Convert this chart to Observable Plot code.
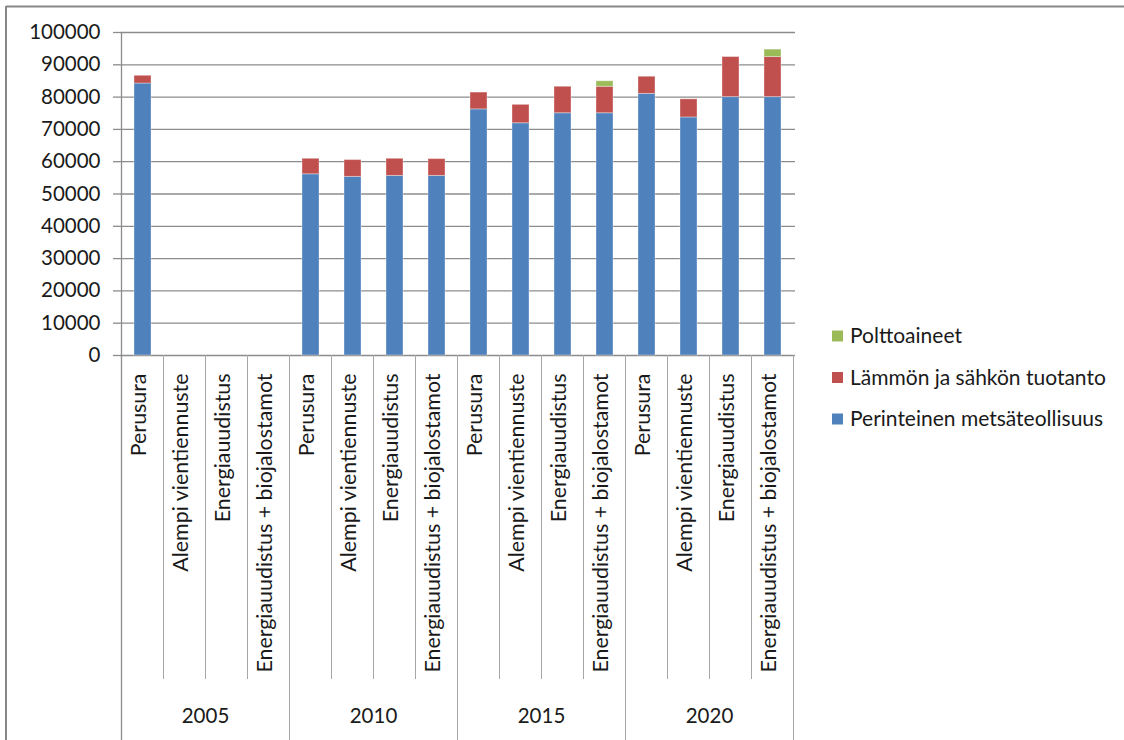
<!DOCTYPE html>
<html><head><meta charset="utf-8">
<script src="https://cdn.jsdelivr.net/npm/d3@7"></script>
<script src="https://cdn.jsdelivr.net/npm/@observablehq/plot@0.6"></script>
<style>body{margin:0;background:#fff;} svg{display:block}</style>
</head><body><div id="chart"></div>
<script>
const years = ["2005", "2010", "2015", "2020"];
const scenarios = ["Perusura", "Alempi vientiennuste", "Energiauudistus", "Energiauudistus + biojalostamot"];
const series = ["Perinteinen metsäteollisuus", "Lämmön ja sähkön tuotanto", "Polttoaineet"];
// values per year × scenario (16 entries), null = no data
const perinteinen = [84200, null, null, null, 56100, 55300, 55600, 55600, 76200, 71900, 75000, 75000, 81000, 73700, 80000, 80000];
const lammon      = [2400, null, null, null, 4800, 5200, 5300, 5200, 5200, 5700, 8200, 8200, 5300, 5600, 12400, 12400];
const polttoaineet = [0, null, null, null, 0, 0, 0, 0, 0, 0, 0, 1700, 0, 0, 0, 2300];
const yTicks = [0, 10000, 20000, 30000, 40000, 50000, 60000, 70000, 80000, 90000, 100000];
const colors = ["#4F81BD", "#C0504D", "#9BBB59"];
const legendOrder = ["Polttoaineet", "Lämmön ja sähkön tuotanto", "Perinteinen metsäteollisuus"];

const keys = [];
const cats = [];
const rows = [];
years.forEach((yr, gi) => scenarios.forEach((sc, si) => {
  const i = gi * 4 + si;
  const key = yr + "|" + sc;
  keys.push(key);
  cats.push({key, year: yr, scenario: sc});
  [perinteinen, lammon, polttoaineet].forEach((arr, k) => {
    if (arr[i] != null && arr[i] > 0) rows.push({key, series: series[k], value: arr[i]});
  });
}));

const font = "Lato, 'Open Sans', sans-serif";
const textColor = "#1a1a1a";
const gridColor = "#8c8c8c";
const sepColor = "#a6a6a6";

const plot = Plot.plot({
  width: 1124, height: 740,
  marginLeft: 120, marginRight: 329, marginTop: 32, marginBottom: 385,
  style: {fontFamily: font, fontSize: "20px", color: textColor, background: "#fff", overflow: "visible"},
  x: {domain: keys, paddingInner: 0.6, paddingOuter: 0.3, axis: null},
  y: {domain: [0, 100000], axis: null},
  color: {domain: series, range: colors},
  marks: [
    Plot.gridY(yTicks, {stroke: gridColor, strokeOpacity: 1, strokeWidth: 1.3}),
    Plot.barY(rows, {x: "key", y: "value", fill: "series", z: "series", order: series, stroke: "#ffffff", strokeOpacity: 0.35, strokeWidth: 1}),
    Plot.axisY(yTicks, {label: null, tickSize: 7, tickPadding: 13, stroke: gridColor, strokeWidth: 1.3, fill: textColor, fontSize: 20.5, tickFormat: d3.format("d")}),
    Plot.text(cats, {x: "key", text: "scenario", frameAnchor: "bottom", rotate: -90, textAnchor: "end", dy: 18, dx: 3, fontSize: 21.4, fill: textColor})
  ]
});

document.getElementById("chart").appendChild(plot);

const xs = plot.scale("x");
const ys = plot.scale("y");
const step = xs.step, bw = xs.bandwidth;
const leftOf = k => xs.apply(k) - (step - bw) / 2;
const svg = d3.select(plot);
const y0 = ys.apply(0);
const yTop = ys.apply(100000);
const H = 740;
const g = svg.append("g");

keys.forEach((k, i) => {
  const x = leftOf(k);
  const isGroup = i % 4 === 0;
  g.append("line").attr("x1", x).attr("x2", x)
    .attr("y1", i === 0 ? yTop : y0).attr("y2", isGroup ? H : 679)
    .attr("stroke", i === 0 ? gridColor : sepColor).attr("stroke-width", i === 0 ? 1.3 : 1);
});
{
  const xr = leftOf(keys[keys.length - 1]) + step;
  g.append("line").attr("x1", xr).attr("x2", xr).attr("y1", y0).attr("y2", H)
    .attr("stroke", sepColor).attr("stroke-width", 1);
}
// year labels centred under each group
years.forEach((yr, gi) => {
  const x0 = leftOf(keys[gi * 4]);
  const x1 = leftOf(keys[gi * 4 + 3]) + step;
  g.append("text").attr("x", (x0 + x1) / 2).attr("y", 716).attr("dy", "0.35em")
    .attr("text-anchor", "middle").attr("fill", textColor)
    .attr("font-family", font).attr("font-size", 20.5).text(yr);
});

// outer chart-area frame (top and left edges visible)
g.append("line").attr("x1", 6).attr("x2", 1124).attr("y1", 6.5).attr("y2", 6.5).attr("stroke", "#878787").attr("stroke-width", 2);
g.append("line").attr("x1", 6).attr("x2", 6).attr("y1", 6).attr("y2", 740).attr("stroke", "#878787").attr("stroke-width", 2);

// legend
const lg = svg.append("g").attr("font-family", font).attr("font-size", 21).attr("fill", textColor).attr("text-anchor", "start");
const color = plot.scale("color");
legendOrder.forEach((s, j) => {
  const cy = 336 + j * 41.5;
  lg.append("rect").attr("x", 832).attr("y", cy - 5.5).attr("width", 11).attr("height", 11).attr("fill", color.apply(s));
  lg.append("text").attr("x", 850).attr("y", cy).attr("dy", "0.35em").attr("text-anchor", "start").text(s);
});
</script>
</body></html>
